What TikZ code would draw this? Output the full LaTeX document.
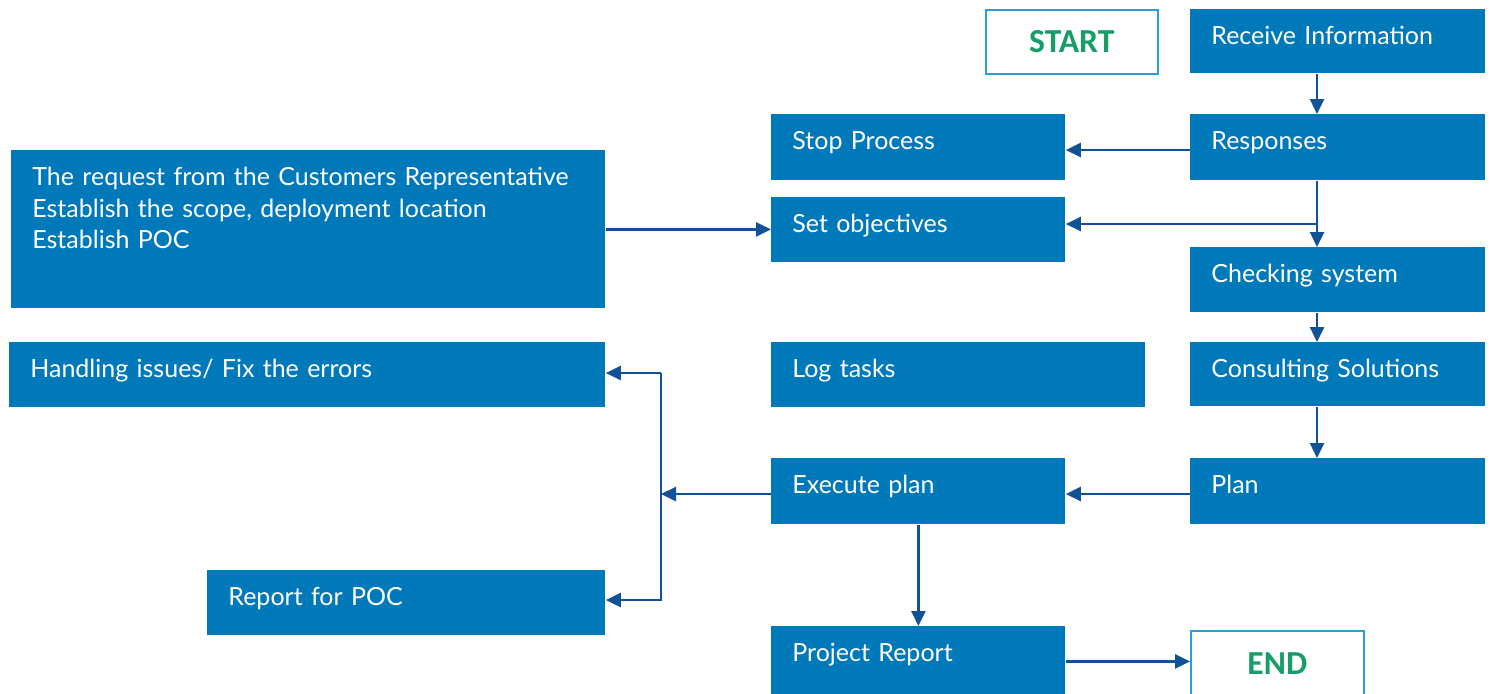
\documentclass[tikz,border=0pt]{standalone}
\usepackage{fontspec}
\setmainfont{Lato}
\newfontfamily\termfont{Carlito}
\usetikzlibrary{arrows.meta}

\definecolor{boxblue}{RGB}{0,121,186}
\definecolor{arrowblue}{RGB}{17,82,150}
\definecolor{termgreen}{RGB}{24,156,104}
\definecolor{termline}{RGB}{45,155,214}

\begin{document}
\begin{tikzpicture}[x=0.5pt,y=-0.5pt,
    stage/.style={fill=boxblue, text=white, anchor=north west, align=left,
        inner xsep=10.5pt, inner ysep=0pt, text height=17.75pt,
        font=\fontsize{12.5}{15.75}\selectfont},
    terminal/.style={draw=termline, line width=0.8pt, fill=white, text=termgreen,
        anchor=north west, inner sep=0pt, font=\termfont\bfseries\fontsize{16.8}{20}\selectfont},
    arr/.style={draw=arrowblue, line width=1.25pt, -{Triangle[length=7.5pt,width=7pt]}}]
    \useasboundingbox (0,0) rectangle (1493,693);

    % Terminals
    \node[terminal, minimum width=86pt, minimum height=32pt] (start) at (985,9) {START};
    \node[terminal, minimum width=86.5pt, minimum height=33pt] (end) at (1190,630) {END};

    % Right column
    \node[stage, text width=126.5pt, text depth=14.25pt] (recv) at (1190,9) {Receive Information};
    \node[stage, text width=126.5pt, text depth=15.25pt] (resp) at (1190,114) {Responses};
    \node[stage, text width=126.5pt, text depth=14.75pt] (check) at (1190,247) {Checking system};
    \node[stage, text width=126.5pt, text depth=14.25pt] (consult) at (1190,342) {Consulting Solutions};
    \node[stage, text width=126.5pt, text depth=15.25pt] (plan) at (1190,458) {Plan};

    % Middle column
    \node[stage, text width=126pt, text depth=15.25pt] (stop) at (771,114) {Stop Process};
    \node[stage, text width=126pt, text depth=14.75pt] (obj) at (771,197) {Set objectives};
    \node[stage, text width=166pt, text depth=14.75pt] (log) at (771,342) {Log tasks};
    \node[stage, text width=126pt, text depth=15.25pt] (exec) at (771,458) {Execute plan};
    \node[stage, text width=126pt, text depth=17.25pt] (proj) at (771,626) {Project Report};

    % Left column
    \node[stage, text width=276pt, text depth=61.25pt] (req) at (11,150)
        {The request from the Customers Representative\\Establish the scope, deployment location\\Establish POC};
    \node[stage, text width=277pt, text depth=14.75pt] (issue) at (9,342) {Handling issues/ Fix the errors};
    \node[stage, text width=178pt, text depth=14.75pt] (poc) at (207,570) {Report for POC};

    % Helper coordinates
    \coordinate (spine) at (1317,0);
    \coordinate (fork) at (1317,224);
    \coordinate (bus) at (661,0);
    \coordinate (upper) at (0,150);
    \coordinate (lower) at (0,494);
    \coordinate (busin) at (0,373);
    \coordinate (busout) at (0,600);

    % Connectors
    \draw[arr] (recv.south -| spine) -- (resp.north -| spine);
    \draw[arr] (resp.west |- upper) -- (stop.east |- upper);
    \draw[arr] (resp.south -| spine) -- (check.north -| spine);
    \draw[arr] (fork) -- (obj.east |- fork);
    \draw[arr] (req.east) -- (obj.west |- req.east);
    \draw[arr] (check.south -| spine) -- (consult.north -| spine);
    \draw[arr] (consult.south -| spine) -- (plan.north -| spine);
    \draw[arr] (plan.west |- lower) -- (exec.east |- lower);
    \draw[arr] (exec.west |- lower) -- (bus |- lower);
    \draw[arr] (bus |- busin) -- (bus |- busout) -- (poc.east |- busout);
    \draw[arr] (bus |- busin) -- (issue.east |- busin);
    \draw[arr] (exec.south) -- (proj.north);
    \draw[arr] (proj.east) -- (end.west |- proj.east);
\end{tikzpicture}
\end{document}
